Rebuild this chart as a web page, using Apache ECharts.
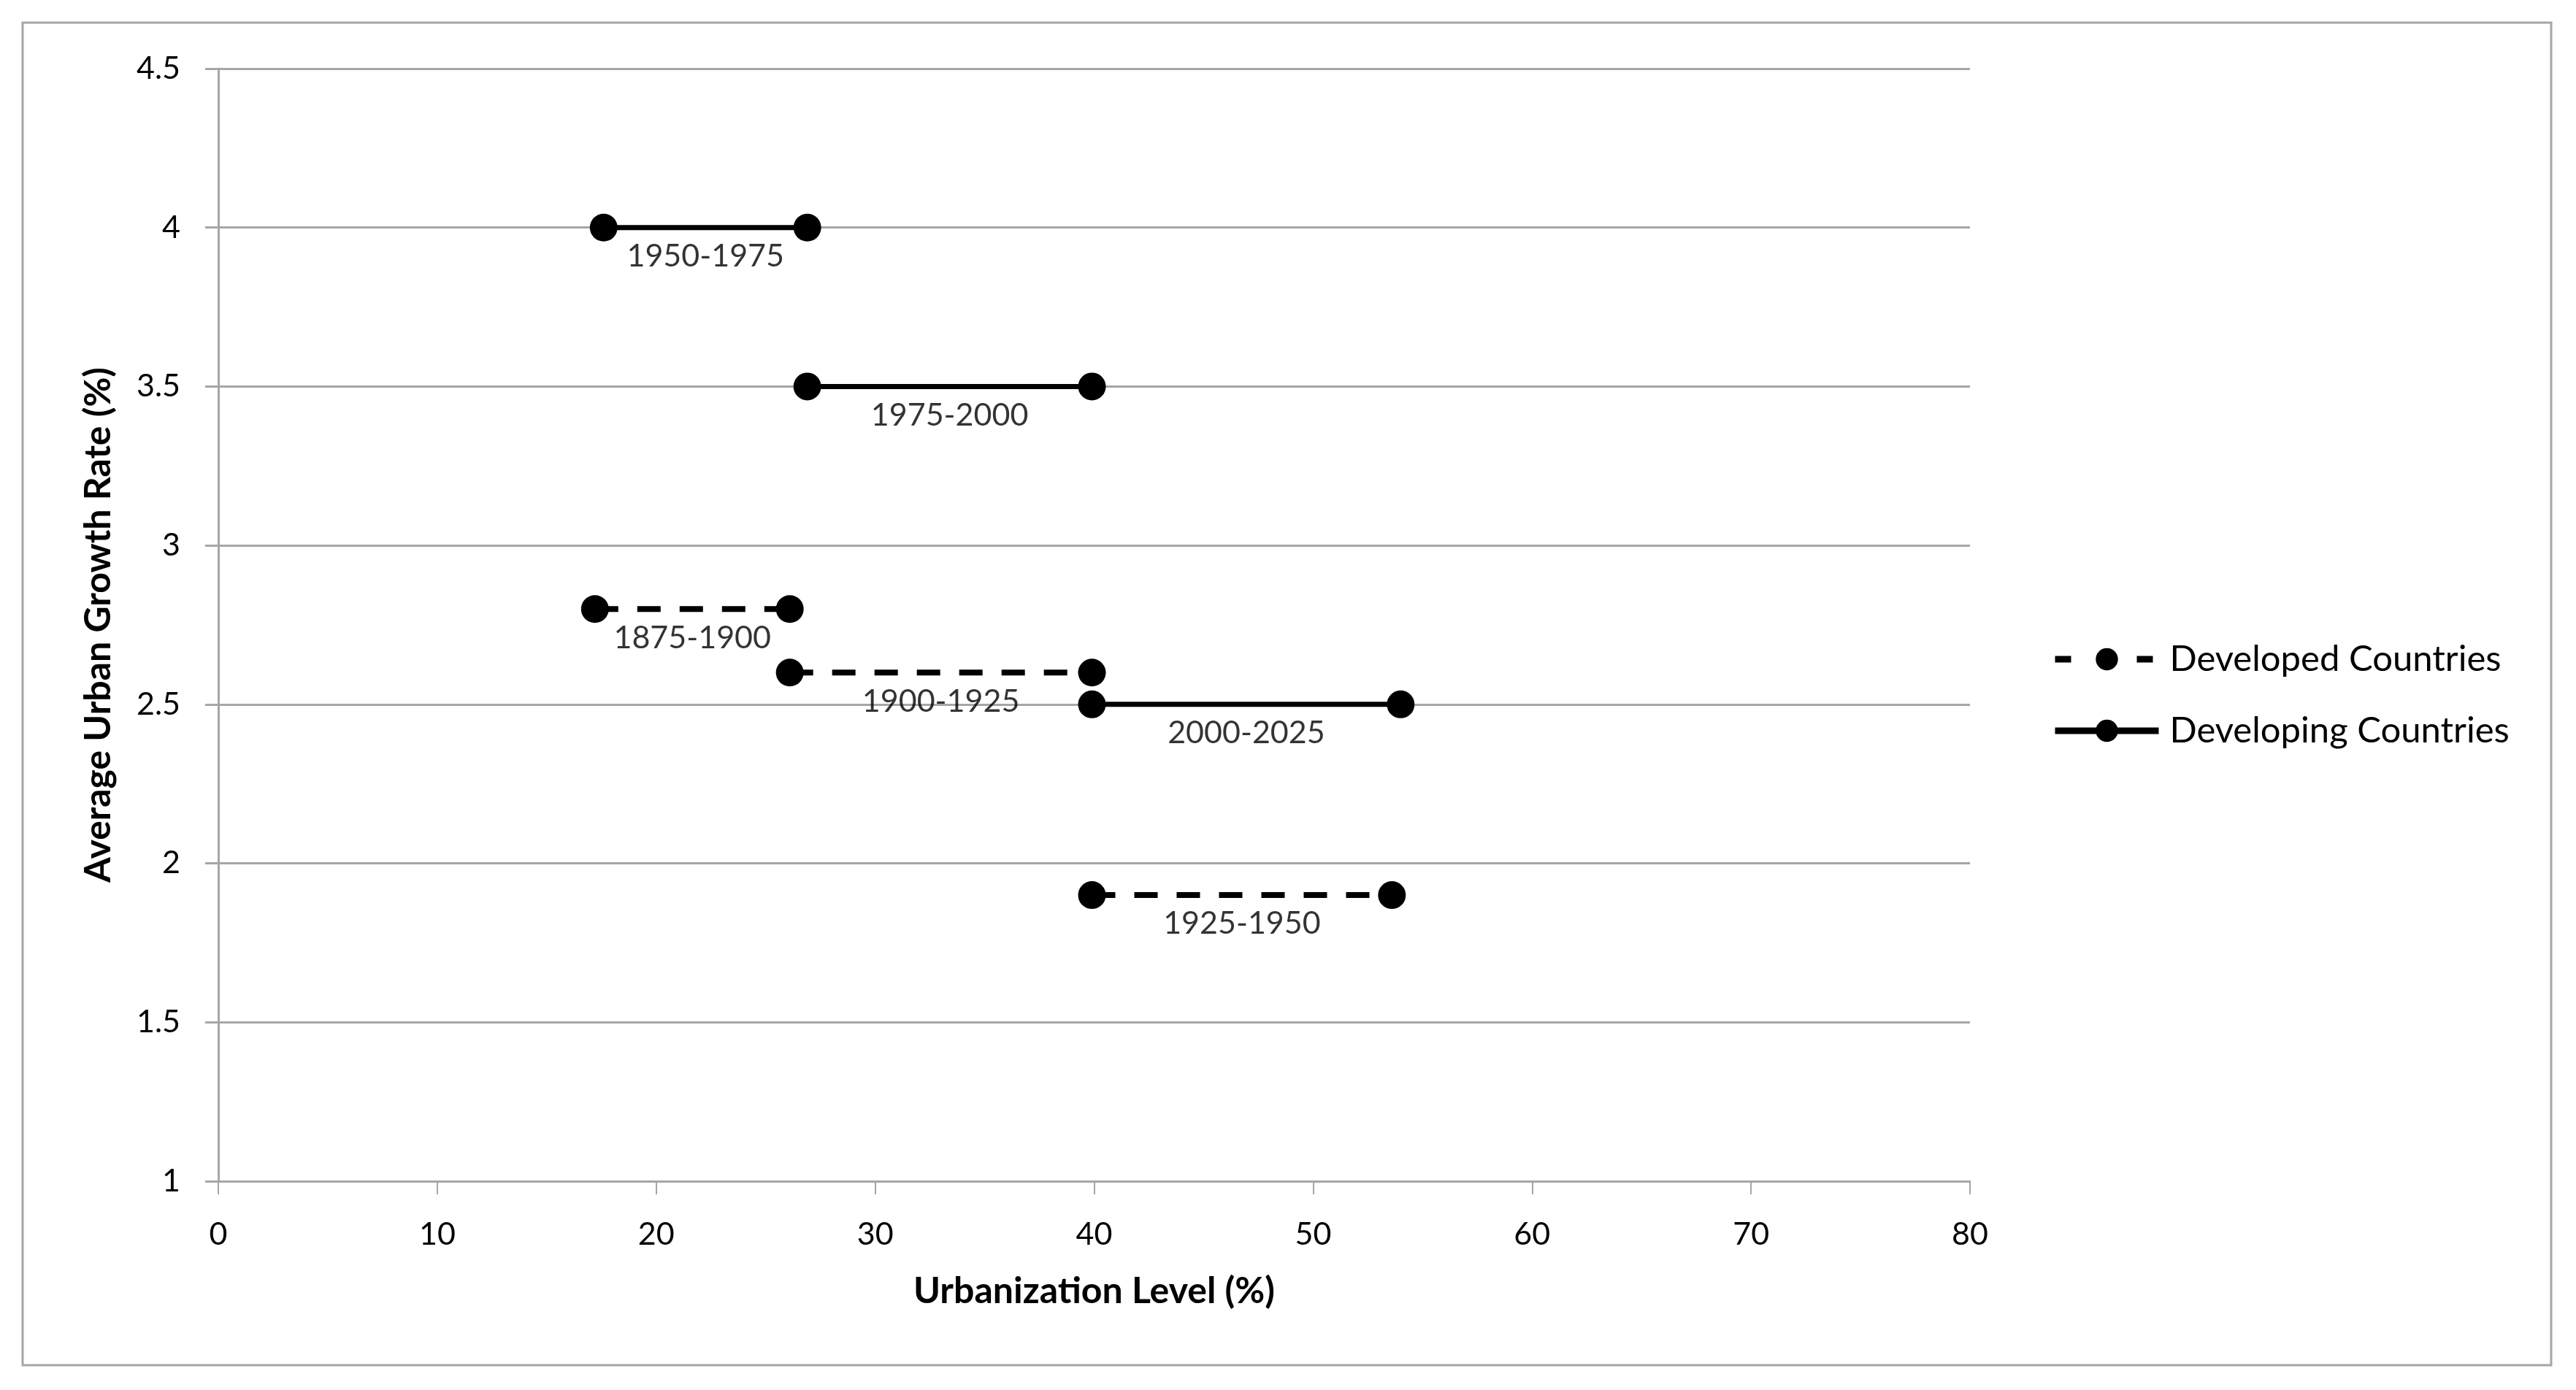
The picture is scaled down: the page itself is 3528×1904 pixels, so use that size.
<!DOCTYPE html>
<html>
<head>
<meta charset="utf-8">
<script src="https://cdn.jsdelivr.net/npm/echarts@6/dist/echarts.min.js"></script>
<style>
html,body{margin:0;padding:0;background:#fff;}
#chart{width:3528px;height:1904px;}
</style>
</head>
<body>
<div id="chart"></div>
<script>
// ---- data ----
const developedPeriods = ['1875-1900', '1900-1925', '1925-1950'];
const developedStart = [17.2, 26.1, 39.9];
const developedEnd = [26.1, 39.9, 53.6];
const developedRate = [2.8, 2.6, 1.9];

const developingPeriods = ['1950-1975', '1975-2000', '2000-2025'];
const developingStart = [17.6, 26.9, 39.9];
const developingEnd = [26.9, 39.9, 54.0];
const developingRate = [4.0, 3.5, 2.5];

const seriesNames = ['Developed Countries', 'Developing Countries'];
const xTicks = [0, 10, 20, 30, 40, 50, 60, 70, 80];
const yTicks = [1, 1.5, 2, 2.5, 3, 3.5, 4, 4.5];

const FONT = 'Lato';
const chart = echarts.init(document.getElementById('chart'));

function segSeries(name, starts, ends, rates, dashed) {
  return starts.map((s, i) => ({
    name: name,
    type: 'line',
    data: [[s, rates[i]], [ends[i], rates[i]]],
    symbol: 'circle',
    symbolSize: 38,
    itemStyle: {color: '#000'},
    lineStyle: {color: '#000', width: dashed ? 8 : 7, type: dashed ? [32, 26] : 'solid'},
    z: 3
  }));
}

const labelData = [];
developedPeriods.forEach((p, i) => labelData.push({value: [(developedStart[i] + developedEnd[i]) / 2, developedRate[i]], name: p}));
developingPeriods.forEach((p, i) => labelData.push({value: [(developingStart[i] + developingEnd[i]) / 2, developingRate[i]], name: p}));

const option = {
  animation: false,
  backgroundColor: '#fff',
  graphic: [{
    type: 'rect',
    shape: {x: 31, y: 31, width: 3463, height: 1839},
    style: {fill: 'none', stroke: '#a6a6a6', lineWidth: 3},
    silent: true
  }],
  grid: {left: 299, top: 94, right: 830, bottom: 286, containLabel: false},
  legend: {
    data: [
      {name: seriesNames[0], lineStyle: {width: 9, type: [22, 90], dashOffset: 0}},
      {name: seriesNames[1], lineStyle: {width: 9, type: 'solid'}}
    ],
    orient: 'vertical',
    left: 2805,
    top: 870,
    itemWidth: 142,
    itemHeight: 38,
    itemGap: 42,
    textStyle: {fontFamily: FONT, fontSize: 49, color: '#000', padding: [0, 0, 0, 10], lineHeight: 56}
  },
  xAxis: {
    type: 'value',
    min: 0, max: 80, interval: 10,
    name: 'Urbanization Level (%)',
    nameLocation: 'middle',
    nameGap: 126,
    nameTextStyle: {fontFamily: FONT, fontSize: 50, fontWeight: 'bold', color: '#000'},
    axisLine: {show: true, lineStyle: {color: '#a6a6a6', width: 3}},
    axisTick: {show: true, length: 18, lineStyle: {color: '#a6a6a6', width: 2}},
    axisLabel: {fontFamily: FONT, fontSize: 43, color: '#000', margin: 52,
      formatter: v => xTicks.indexOf(v) >= 0 ? String(v) : ''},
    splitLine: {show: false}
  },
  yAxis: {
    type: 'value',
    min: 1, max: 4.5, interval: 0.5,
    name: 'Average Urban Growth Rate (%)',
    nameLocation: 'middle',
    nameGap: 139,
    nameTextStyle: {fontFamily: FONT, fontSize: 50, fontWeight: 'bold', color: '#000'},
    axisLine: {show: true, lineStyle: {color: '#a6a6a6', width: 3}},
    axisTick: {show: true, length: 18, lineStyle: {color: '#a6a6a6', width: 3}},
    axisLabel: {fontFamily: FONT, fontSize: 43, color: '#000', margin: 52,
      formatter: v => yTicks.indexOf(v) >= 0 ? String(v) : ''},
    splitLine: {show: true, lineStyle: {color: '#a6a6a6', width: 3}}
  },
  series: [
    ...segSeries(seriesNames[0], developedStart, developedEnd, developedRate, true),
    ...segSeries(seriesNames[1], developingStart, developingEnd, developingRate, false),
    {
      name: 'period labels',
      type: 'scatter',
      data: labelData,
      symbolSize: 0,
      itemStyle: {color: 'transparent'},
      label: {show: true, position: 'bottom', distance: 18, formatter: p => p.name,
        fontFamily: FONT, fontSize: 43, color: '#000'},
      z: 4
    }
  ]
};
chart.setOption(option);
</script>
</body>
</html>
